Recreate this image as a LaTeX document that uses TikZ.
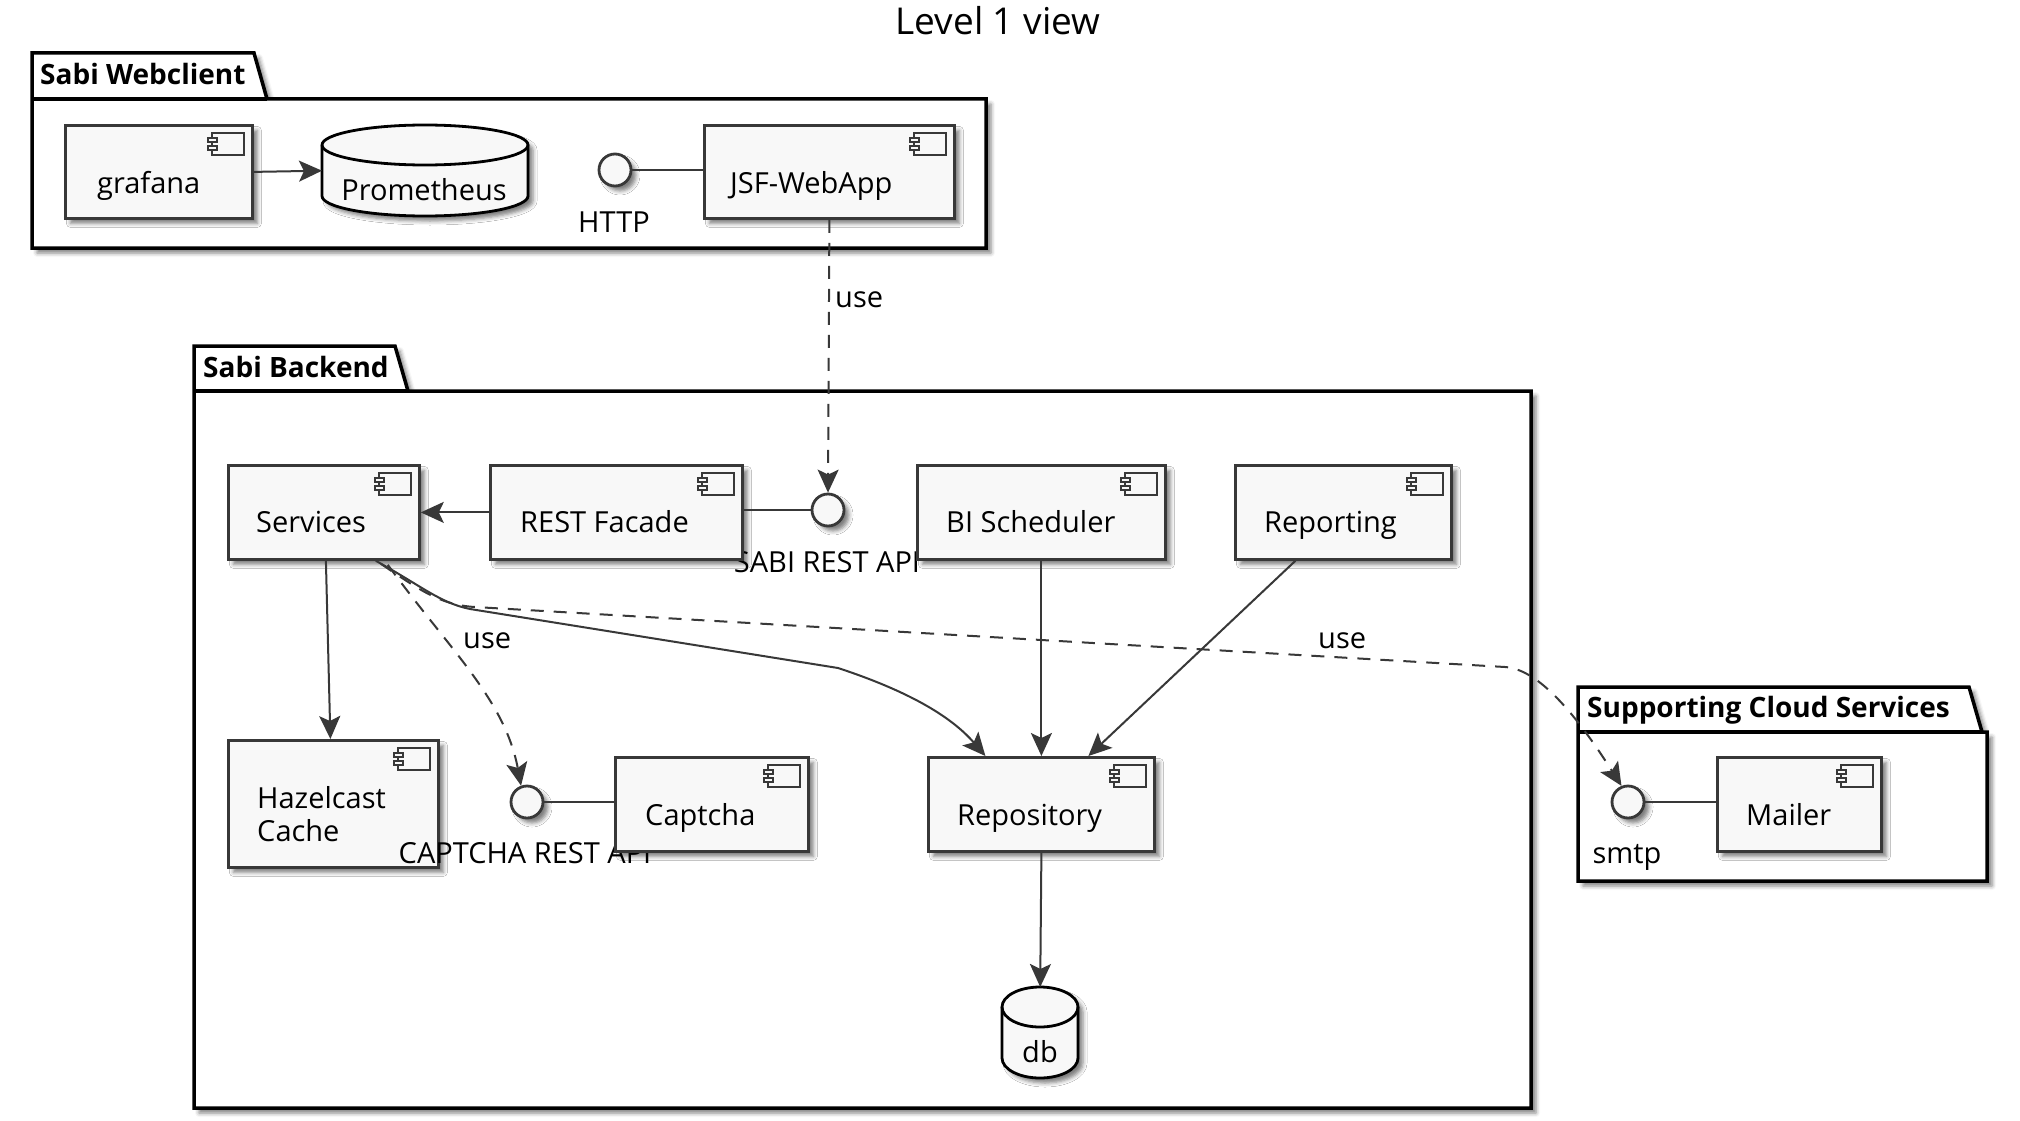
\documentclass[tikz,border=0pt]{standalone}
\usepackage{fontspec}
\setmainfont{Open Sans}
\usetikzlibrary{arrows.meta,shadows.blur,calc}
\definecolor{cdark}{HTML}{383838}
\definecolor{cfill}{HTML}{F8F8F8}
\newcommand\cicon[1]{%
  \draw[icon] ($(#1.north east)+(-42,9)$) rectangle ($(#1.north east)+(-10,31)$);
  \draw[icon] ($(#1.north east)+(-46,14)$) rectangle ($(#1.north east)+(-37,18)$);
  \draw[icon] ($(#1.north east)+(-46,22)$) rectangle ($(#1.north east)+(-37,26)$);}
\newcommand\mycomp[5]{\node[comp,minimum width=#4pt,minimum height=#5pt] (#1) at (#2,#3) {};\cicon{#1}}
\begin{document}
\begin{tikzpicture}[x=1pt,y=-1pt,
  shd/.style={blur shadow={shadow xshift=5pt,shadow yshift=-5pt,shadow blur radius=4pt,shadow opacity=50}},
  comp/.style={draw=cdark,fill=cfill,line width=2.8pt,rectangle,inner sep=0,anchor=north west,shd},
  iface/.style={draw=cdark,fill=cfill,line width=2.8pt,circle,inner sep=0,minimum size=32pt,shd},
  cyl/.style={draw=black,fill=cfill,line width=2.8pt,shd},
  pkg/.style={draw=black,fill=white,line width=3.5pt,shd},
  txt/.style={font=\fontsize{29}{34}\selectfont,inner sep=0,text=black},
  btxt/.style={font=\bfseries\fontsize{28}{34}\selectfont,inner sep=0,text=black},
  con/.style={draw=cdark,line width=2pt},
  arr/.style={con,-{Stealth[length=23pt,width=21pt,inset=5pt]}},
  dep/.style={arr,dash pattern=on 13pt off 10pt},
  icon/.style={draw=cdark,fill=cfill,line width=2.3pt}]
\useasboundingbox (0,0) rectangle (2020,1121);

% title
\node[font=\fontsize{37}{44}\selectfont,inner sep=0,anchor=base] (title) at (998,35) {Level 1 view};

% packages
\path[pkg] (32,53) -- (254,53) -- (267,99) -- (986,99) -- (986,248) -- (32,248) -- cycle;
\draw[black,line width=3.5pt] (32,99) -- (267,99);
\node[btxt,anchor=base west] (pwc) at (40,85) {Sabi Webclient};

\path[pkg] (194,346) -- (395,346) -- (408,391) -- (1531,391) -- (1531,1108) -- (194,1108) -- cycle;
\draw[black,line width=3.5pt] (194,391) -- (408,391);
\node[btxt,anchor=base west] (pbe) at (203,377) {Sabi Backend};

\path[pkg] (1578,687) -- (1969,687) -- (1982,732) -- (1987,732) -- (1987,881) -- (1578,881) -- cycle;
\draw[black,line width=3.5pt] (1578,732) -- (1982,732);
\node[btxt,anchor=base west] (pcs) at (1587,717) {Supporting Cloud Services};

% databases
\path[cyl] (322,145) -- (322,196) arc[start angle=180,end angle=360,x radius=103pt,y radius=20pt] -- (528,145) arc[start angle=0,end angle=180,x radius=103pt,y radius=20pt] -- cycle;
\draw[black,line width=2.8pt] (322,145) arc[start angle=180,end angle=360,x radius=103pt,y radius=20pt];
\node[inner sep=0,minimum width=206pt,minimum height=91pt,anchor=north west] (prom) at (322,125) {};
\node[txt,anchor=base] (promt) at (424,200) {Prometheus};

\path[cyl] (1002,1007) -- (1002,1058) arc[start angle=180,end angle=360,x radius=38pt,y radius=20pt] -- (1078,1007) arc[start angle=0,end angle=180,x radius=38pt,y radius=20pt] -- cycle;
\draw[black,line width=2.8pt] (1002,1007) arc[start angle=180,end angle=360,x radius=38pt,y radius=20pt];
\node[inner sep=0,minimum width=76pt,minimum height=91pt,anchor=north west] (db) at (1002,987) {};
\node[txt,anchor=base] (dbt) at (1040,1062) {db};

% Hazelcast drawn below the interface labels
\mycomp{haz}{227}{739}{210}{127}
\node[txt,anchor=base west] (hazt1) at (257,808) {Hazelcast};
\node[txt,anchor=base west] (hazt2) at (257,841) {Cache};

% interface labels
\node[txt,anchor=base] (httpl) at (614,232) {HTTP};
\node[txt,anchor=base] (sabil) at (827,572) {SABI REST API};
\node[txt,anchor=base] (capil) at (525,863) {CAPTCHA REST API};
\node[txt,anchor=base] (smtpl) at (1627,863) {smtp};

% components
\mycomp{graf}{64}{124}{187}{93}
\mycomp{jsf}{703}{124}{250}{93}
\mycomp{svc}{227}{464}{191}{94}
\mycomp{rest}{489}{464}{252}{94}
\mycomp{bi}{916}{464}{248}{94}
\mycomp{rep}{1234}{464}{216}{94}
\mycomp{cap}{614}{756}{193}{94}
\mycomp{repo}{927}{756}{226}{94}
\mycomp{mail}{1716}{756}{164}{94}

\node[txt,anchor=base west] (graft) at (97,193) {grafana};
\node[txt,anchor=base west] (jsft) at (730,193) {JSF-WebApp};
\node[txt,anchor=base west] (svct) at (256,532) {Services};
\node[txt,anchor=base west] (restt) at (520,532) {REST Facade};
\node[txt,anchor=base west] (bit) at (946,532) {BI Scheduler};
\node[txt,anchor=base west] (rept) at (1264,532) {Reporting};
\node[txt,anchor=base west] (capt) at (645,825) {Captcha};
\node[txt,anchor=base west] (repot) at (957,825) {Repository};
\node[txt,anchor=base west] (mailt) at (1746,825) {Mailer};

% interfaces
\node[iface] (http) at (615,170) {};
\node[iface] (sabi) at (828,510) {};
\node[iface] (capi) at (527,802) {};
\node[iface] (smtp) at (1628,802) {};

% connectors
\draw[arr] (graf.east) -- (prom.west);
\draw[con] (http.east) -- (http.east -| jsf.west);
\draw[dep] (jsf.south) -- (sabi.north);
\node[txt,anchor=base west] (use1) at (835,307) {use};
\draw[arr] (rest.west) -- (svc.east);
\draw[con] (sabi.east -| rest.east) -- (sabi.west);
\draw[arr] ($(svc.south)+(2,0)$) -- ($(haz.north)+(-3,0)$);
\draw[arr] ($(svc.south east)+(-45,0)$) .. controls (420,585) and (440,603) .. (470,609) -- (838,668) .. controls (905,690) and (950,715) .. ($(repo.north)+(-56,0)$);
\draw[dep] ($(svc.south east)+(-40,3)$) .. controls (420,590) and (440,605) .. (475,607) -- (1505,667) .. controls (1535,669) and (1570,705) .. (smtp.112);
\node[txt,anchor=base west] (use3) at (1318,648) {use};
\draw[dep] ($(svc.south east)+(-33,4)$) .. controls (450,650) and (505,700) .. (capi.110);
\node[txt,anchor=base west] (use2) at (463,648) {use};
\draw[arr] (bi.south) -- (repo.north);
\draw[arr] ($(rep.south)+(-48,0)$) -- ($(repo.north)+(47,0)$);
\draw[arr] (repo.south) -- (db.north);
\draw[con] (capi.east) -- (capi.east -| cap.west);
\draw[con] (smtp.east) -- (smtp.east -| mail.west);
\end{tikzpicture}
\end{document}
